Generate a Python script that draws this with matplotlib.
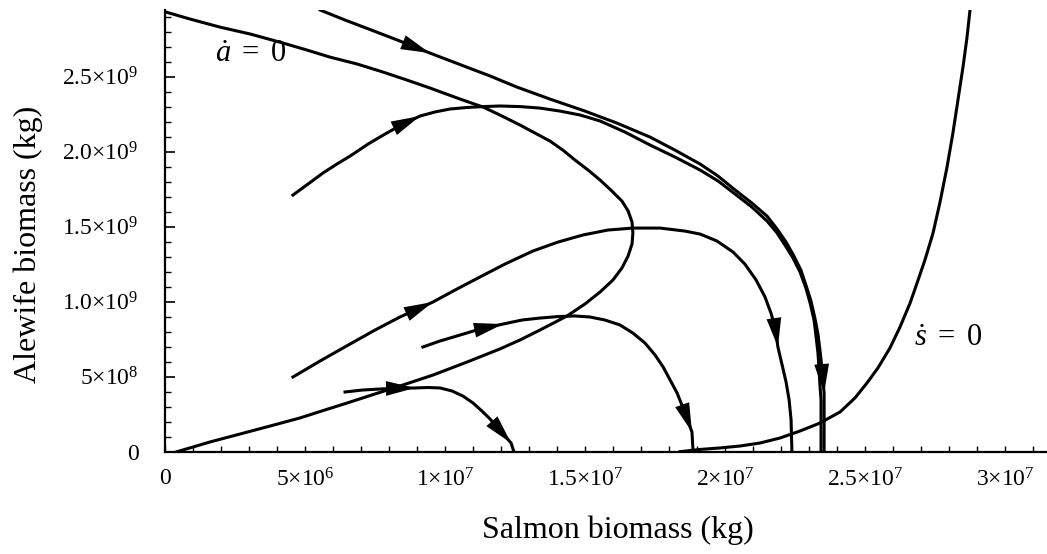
import matplotlib
matplotlib.use('Agg')
import matplotlib.pyplot as plt
from matplotlib.ticker import FixedLocator, MultipleLocator

# 読み取った値 (s: 10^6 kg, a: 10^9 kg)
a_null_s = [0.43, 1.61, 2.68, 3.75, 4.82, 5.71, 6.61, 7.5, 8.39, 9.57, 10.79, 11.96, 12.68, 13.39, 14.36, 15.0,
            15.54, 16.0, 16.32, 16.54, 16.68, 16.71, 16.68, 16.54, 16.32, 15.96, 15.54, 15.11, 14.64, 14.21,
            13.75, 13.21, 12.68, 11.96, 11.36, 10.54, 9.46, 8.64, 7.79, 6.86, 5.89, 5.07, 4.21, 3.04, 1.96, 0.89, 0.04]
a_null_a = [0.0, 0.065, 0.118, 0.171, 0.225, 0.278, 0.331, 0.385, 0.438, 0.511, 0.598, 0.685, 0.745, 0.811, 0.905,
            0.985, 1.065, 1.145, 1.225, 1.305, 1.385, 1.458, 1.531, 1.605, 1.671, 1.738, 1.811, 1.878, 1.945, 2.011,
            2.071, 2.125, 2.178, 2.245, 2.298, 2.351, 2.425, 2.478, 2.531, 2.585, 2.631, 2.678, 2.725, 2.785, 2.831,
            2.885, 2.931]

s_null_s = [18.39, 19.11, 19.82, 20.54, 21.25, 21.96, 22.68, 23.39, 24.11, 24.64, 25.07, 25.46, 25.89, 26.25,
            26.61, 26.86, 27.14, 27.43, 27.68, 27.93, 28.14, 28.32, 28.5, 28.64, 28.75]
s_null_a = [0.0, 0.015, 0.025, 0.038, 0.058, 0.091, 0.138, 0.191, 0.265, 0.358, 0.458, 0.558, 0.691, 0.831,
            0.991, 1.125, 1.278, 1.458, 1.665, 1.898, 2.125, 2.345, 2.565, 2.758, 2.945]

t1_s = [5.54, 6.43, 7.32, 8.39, 9.46, 10.54, 11.61, 12.57, 13.75, 15.0, 16.14, 17.32, 18.21, 19.11, 19.75, 20.36,
        20.96, 21.5, 21.86, 22.18, 22.46, 22.71, 22.89, 23.07, 23.21, 23.32, 23.39, 23.46, 23.5, 23.54, 23.54, 23.54]
t1_a = [2.945, 2.878, 2.815, 2.738, 2.658, 2.581, 2.505, 2.431, 2.351, 2.271, 2.191, 2.098, 2.011, 1.918, 1.838,
        1.745, 1.658, 1.571, 1.485, 1.398, 1.305, 1.211, 1.111, 1.005, 0.891, 0.785, 0.678, 0.565, 0.478, 0.391,
        0.211, 0.0]

t2_s = [4.57, 5.11, 5.64, 6.14, 6.61, 7.25, 7.86, 8.5, 9.11, 9.64, 10.18, 10.79, 11.36, 11.96, 12.68, 13.39, 14.11,
        14.82, 15.54, 16.43, 17.32, 18.21, 19.11, 19.75, 20.36, 20.96, 21.5, 21.86, 22.14, 22.43, 22.68, 22.89,
        23.04, 23.18, 23.25, 23.32, 23.36, 23.39, 23.43, 23.43]
t2_a = [1.711, 1.785, 1.858, 1.918, 1.971, 2.051, 2.118, 2.185, 2.238, 2.265, 2.285, 2.295, 2.301, 2.305, 2.301,
        2.291, 2.271, 2.245, 2.205, 2.131, 2.045, 1.965, 1.878, 1.805, 1.718, 1.631, 1.538, 1.458, 1.378, 1.291,
        1.198, 1.091, 0.991, 0.878, 0.771, 0.658, 0.545, 0.445, 0.345, 0.0]

t3_s = [4.57, 5.54, 6.61, 7.5, 8.39, 9.57, 10.36, 11.25, 12.14, 13.14, 14.04, 14.93, 15.82, 16.71, 17.68, 18.57,
        19.11, 19.71, 20.29, 20.71, 21.11, 21.43, 21.64, 21.79, 21.89, 22.04, 22.18, 22.29, 22.36, 22.39]
t3_a = [0.498, 0.605, 0.718, 0.811, 0.898, 0.998, 1.078, 1.165, 1.251, 1.338, 1.398, 1.445, 1.478, 1.491, 1.491,
        1.471, 1.451, 1.405, 1.331, 1.251, 1.145, 1.031, 0.925, 0.831, 0.698, 0.578, 0.465, 0.345, 0.211, 0.0]

t4_s = [9.21, 9.82, 10.54, 11.25, 12.07, 12.75, 13.39, 14.04, 14.64, 15.18, 15.71, 16.25, 16.71, 17.14, 17.5,
        17.79, 18.04, 18.29, 18.46, 18.64, 18.82, 18.86]
t4_a = [0.698, 0.738, 0.778, 0.818, 0.851, 0.878, 0.891, 0.901, 0.905, 0.898, 0.878, 0.845, 0.791, 0.725, 0.645,
        0.565, 0.478, 0.391, 0.311, 0.225, 0.131, 0.0]

t5_s = [6.43, 7.04, 7.68, 8.32, 8.93, 9.39, 9.82, 10.25, 10.64, 11.0, 11.32, 11.61, 11.86, 12.11, 12.36, 12.46]
t5_a = [0.398, 0.411, 0.418, 0.423, 0.425, 0.428, 0.425, 0.405, 0.371, 0.325, 0.271, 0.218, 0.165, 0.111,
        0.058, 0.0]

# 軌道と矢印の位置 (点の番号)
trajectories = [(t1_s, t1_a, [4, 29]), (t2_s, t2_a, [8]), (t3_s, t3_a, [5, 24]),
                (t4_s, t4_a, [4, 20]), (t5_s, t5_a, [4, 14])]

x_ticks = [0, 5e6, 1e7, 1.5e7, 2e7, 2.5e7, 3e7]
x_tick_labels = ['0', r'$5{\times}10^{6}$', r'$1{\times}10^{7}$', r'$1.5{\times}10^{7}$',
                 r'$2{\times}10^{7}$', r'$2.5{\times}10^{7}$', r'$3{\times}10^{7}$']
y_ticks = [0, 5e8, 1e9, 1.5e9, 2e9, 2.5e9]
y_tick_labels = ['0', r'$5{\times}10^{8}$', r'$1.0{\times}10^{9}$', r'$1.5{\times}10^{9}$',
                 r'$2.0{\times}10^{9}$', r'$2.5{\times}10^{9}$']

plt.rcParams['font.family'] = ['Liberation Serif', 'DejaVu Serif']
plt.rcParams['mathtext.fontset'] = 'custom'
plt.rcParams['mathtext.rm'] = 'Liberation Serif'
plt.rcParams['mathtext.it'] = 'Liberation Serif:italic'
plt.rcParams['mathtext.bf'] = 'Liberation Serif:bold'

fig = plt.figure(figsize=(10.47, 5.54), dpi=100)
ax = fig.add_axes([165 / 1047, (554 - 451.7) / 554, 882 / 1047, 441.7 / 554])

lw = 2.2
ax.plot([v * 1e6 for v in a_null_s], [v * 1e9 for v in a_null_a], color='black', lw=lw,
        solid_joinstyle='round')
ax.plot([v * 1e6 for v in s_null_s], [v * 1e9 for v in s_null_a], color='black', lw=lw,
        solid_joinstyle='round')

for xs, ys, arrows in trajectories:
    xs = [v * 1e6 for v in xs]
    ys = [v * 1e9 for v in ys]
    ax.plot(xs, ys, color='black', lw=lw, solid_joinstyle='round')
    for i in arrows:
        ax.annotate('', xy=(xs[i], ys[i]), xytext=(xs[i - 1], ys[i - 1]),
                    arrowprops=dict(arrowstyle='-|>,head_length=1.1,head_width=0.28', color='black',
                                    lw=0, shrinkA=0, shrinkB=0, mutation_scale=19))

ax.text(3.07e6, 2.645e9, r'$\dot{a}\ =\ 0$', fontsize=22, ha='center', va='center')
ax.text(27.96e6, 0.758e9, r'$\dot{s}\ =\ 0$', fontsize=22, ha='center', va='center')

ax.set_xlim(0, 3.15e7)
ax.set_ylim(0, 2.945e9)

ax.xaxis.set_major_locator(FixedLocator(x_ticks))
ax.set_xticklabels(x_tick_labels)
ax.xaxis.set_minor_locator(MultipleLocator(1e6))
ax.yaxis.set_major_locator(FixedLocator(y_ticks))
ax.set_yticklabels(y_tick_labels)
ax.yaxis.set_minor_locator(MultipleLocator(1e8))

ax.spines['top'].set_visible(False)
ax.spines['right'].set_visible(False)
ax.spines['left'].set_linewidth(1.6)
ax.spines['bottom'].set_linewidth(1.6)
ax.tick_params(axis='x', which='both', direction='in', length=4, width=1, pad=12, labelsize=17)
ax.tick_params(axis='y', which='major', direction='in', length=7, width=1.2, pad=19, labelsize=17)
ax.tick_params(axis='y', which='minor', direction='in', length=4, width=1)

ax.set_xlabel('Salmon biomass (kg)', fontsize=23, va='center')
ax.xaxis.set_label_coords(0.514, -0.177)
ax.set_ylabel('Alewife biomass (kg)', fontsize=23, va='center')
ax.yaxis.set_label_coords(-0.155, 0.47)

plt.savefig('out.png', dpi=100)
